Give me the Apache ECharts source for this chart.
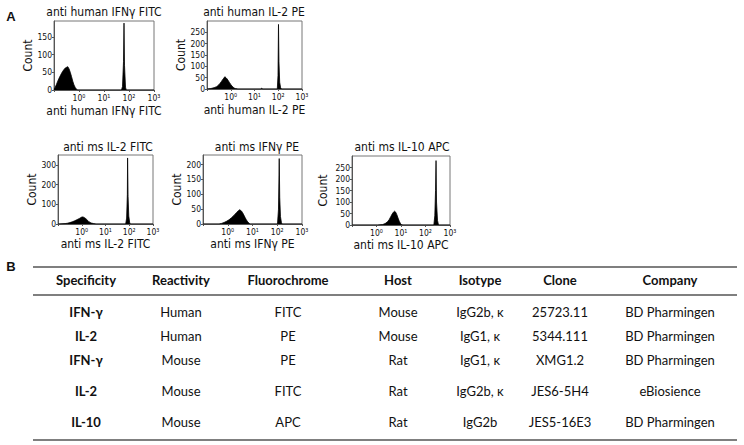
<!DOCTYPE html>
<html><head><meta charset="utf-8">
<script src="https://cdn.jsdelivr.net/npm/echarts@6/dist/echarts.min.js"></script>
<style>html,body{margin:0;padding:0;background:#fff}#c{width:744px;height:445px}</style>
</head><body><div id="c"></div>
<script>
// ---- Panel A histograms: x = log10 fluorescence, y = count ----
const h1Title = 'anti human IFNγ FITC';
const h1Log = [-1.0,-0.95,-0.9,-0.85,-0.8,-0.75,-0.7,-0.65,-0.6,-0.55,-0.5,-0.45,-0.4,-0.35,-0.3,-0.25,-0.2,-0.15,-0.1,-0.05, 1.70,1.74,1.78,1.80,1.82,1.86,1.89, 3.0];
const h1Count = [2,8,16,25,33,40,47,53,58,62,64,66,60,50,38,25,14,7,2,0, 0,10,80,189,70,8,0, 0];

const h2Title = 'anti human IL-2 PE';
const h2Log = [-1.0,-0.85,-0.8,-0.7,-0.6,-0.55,-0.5,-0.45,-0.4,-0.35,-0.3,-0.25,-0.2,-0.15,-0.1,-0.05,0,0.05,0.1,0.15,0.2,0.3, 1.25,1.3,1.35, 1.96,1.99,2.01,2.03,2.06,2.1,2.14, 3.0];
const h2Count = [0,2,3,6,10,14,19,25,32,40,47,54,50,44,36,28,20,13,8,4,2,0, 0,3,0, 0,60,285,120,30,5,0, 0];

const h3Title = 'anti ms IL-2 FITC';
const h3Log = [-1.0,-0.7,-0.6,-0.5,-0.4,-0.3,-0.2,-0.1,-0.05,0,0.05,0.1,0.15,0.2,0.25,0.3,0.35,0.4,0.5,0.6, 1.85,1.89,1.92,1.93,1.95,1.98,2.02,2.05, 3.0];
const h3Count = [0,2,4,7,11,16,22,28,32,35,36,33,29,24,18,12,8,5,2,0, 0,30,150,335,140,40,5,0, 0];

const h4Title = 'anti ms IFNγ PE';
const h4Log = [-1.0,-0.35,-0.25,-0.15,-0.05,0.05,0.15,0.25,0.35,0.42,0.48,0.55,0.6,0.65,0.7,0.75,0.8,0.85,0.9, 2.01,2.05,2.08,2.10,2.13,2.17,2.2, 3.0];
const h4Count = [0,0,2,5,9,14,21,29,38,44,48,44,38,30,22,14,8,3,0, 0,50,220,90,25,4,0, 0];

const h5Title = 'anti ms IL-10 APC';
const h5Log = [-1.0,0.05,0.25,0.35,0.45,0.52,0.58,0.64,0.7,0.74,0.78,0.83,0.88,0.93,0.98,1.03,1.08, 2.34,2.38,2.41,2.43,2.45,2.49,2.53, 3.0];
const h5Count = [0,0,2,6,14,24,36,48,57,60,56,45,30,16,6,1,0, 0,40,150,280,100,20,0, 0];

const xTickExp = [-1, 0, 1, 2, 3];
const xTickLabels = ['', '10⁰', '10¹', '10²', '10³'];
const yLabel = 'Count';

// ---- Panel B table ----
const tableHeader = ['Specificity','Reactivity','Fluorochrome','Host','Isotype','Clone','Company'];
const colSpecificity = ['IFN-γ','IL-2','IFN-γ','IL-2','IL-10'];
const colReactivity = ['Human','Human','Mouse','Mouse','Mouse'];
const colFluorochrome = ['FITC','PE','PE','FITC','APC'];
const colHost = ['Mouse','Mouse','Rat','Rat','Rat'];
const colIsotype = ['IgG2b, κ','IgG1, κ','IgG1, κ','IgG2b, κ','IgG2b'];
const colClone = ['25723.11','5344.111','XMG1.2','JES6-5H4','JES5-16E3'];
const colCompany = ['BD Pharmingen','BD Pharmingen','BD Pharmingen','eBiosience','BD Pharmingen'];

// ---- layout ----
const FONT = 'Lato, "Noto Sans", sans-serif';
const PFONT = '"Liberation Sans Narrow", "DejaVu Sans Condensed", sans-serif';
const plots = [
  {title:h1Title, log:h1Log, count:h1Count, grid:{left:54,top:21,width:100,height:69}, ymax:195, yint:50, cx:104, ty:12, ygap:17, xgap:15},
  {title:h2Title, log:h2Log, count:h2Count, grid:{left:207,top:21,width:95,height:68}, ymax:300, yint:50, cx:254, ty:12, ygap:20, xgap:15},
  {title:h3Title, log:h3Log, count:h3Count, grid:{left:58,top:155,width:95,height:69}, ymax:350, yint:100, cx:108, ty:147, ygap:20, xgap:14},
  {title:h4Title, log:h4Log, count:h4Count, grid:{left:203,top:155,width:99,height:69}, ymax:232, yint:50, cx:257, ty:147, ygap:15, xgap:14},
  {title:h5Title, log:h5Log, count:h5Count, grid:{left:352,top:156,width:98,height:69}, ymax:300, yint:50, cx:402, ty:147, ygap:23, xgap:14}
];

const grids = [], xAxes = [], yAxes = [], series = [], graphics = [];
plots.forEach((p, i) => {
  grids.push(Object.assign({show:true, borderColor:'#777', borderWidth:1, backgroundColor:'transparent'}, p.grid));
  xAxes.push({
    type:'value', gridIndex:i, min:-1, max:3, interval:1,
    name:p.title, nameLocation:'middle', nameGap:p.xgap,
    nameTextStyle:{fontFamily:PFONT, fontSize:12, color:'#111'},
    axisLine:{onZero:false, lineStyle:{color:'#555'}}, axisTick:{length:2, lineStyle:{color:'#555'}},
    axisLabel:{fontSize:8.5, fontFamily:PFONT, color:'#111', margin:3,
      formatter:v => { const k = xTickExp.indexOf(v); return k >= 0 ? xTickLabels[k] : ''; }},
    splitLine:{show:false}
  });
  yAxes.push({
    type:'value', gridIndex:i, min:0, max:p.ymax, interval:p.yint,
    name:yLabel, nameLocation:'middle', nameGap:p.ygap, nameRotate:90,
    nameTextStyle:{fontFamily:PFONT, fontSize:12, color:'#111'},
    axisLine:{show:true, onZero:false, lineStyle:{color:'#555'}}, axisTick:{show:true, length:2, lineStyle:{color:'#555'}},
    axisLabel:{fontSize:8.5, fontFamily:PFONT, color:'#111', margin:2, showMaxLabel:false},
    splitLine:{show:false}
  });
  series.push({
    type:'line', xAxisIndex:i, yAxisIndex:i, symbol:'none', smooth:false,
    lineStyle:{color:'#000', width:0.8}, areaStyle:{color:'#000', opacity:1},
    data:p.log.map((x, k) => [x, p.count[k]]), silent:true, animation:false
  });
  graphics.push({type:'text', x:p.cx, y:p.ty, style:{text:p.title, fontFamily:PFONT, fontSize:12, fill:'#111', align:'center', verticalAlign:'middle'}});
});

// panel letters
graphics.push({type:'text', x:11, y:16, style:{text:'A', fontFamily:'"Liberation Sans", Arial, sans-serif', fontWeight:'bold', fontSize:13, fill:'#111', align:'center', verticalAlign:'middle'}});
graphics.push({type:'text', x:11, y:266, style:{text:'B', fontFamily:'"Liberation Sans", Arial, sans-serif', fontWeight:'bold', fontSize:13, fill:'#111', align:'center', verticalAlign:'middle'}});

// table
const colX = [86, 181, 288, 398, 480, 560, 670];
const rowY = [312, 336, 360, 391, 422];
const headerY = 280;
const columns = [colSpecificity, colReactivity, colFluorochrome, colHost, colIsotype, colClone, colCompany];
[267, 295, 440].forEach(y => graphics.push({type:'line', shape:{x1:33, y1:y, x2:737, y2:y}, style:{stroke:'#555', lineWidth:1.5}}));
tableHeader.forEach((h, c) => graphics.push({type:'text', x:colX[c], y:headerY, style:{text:h, fontFamily:FONT, fontWeight:'bold', fontSize:13, fill:'#111', align:'center', verticalAlign:'middle'}}));
columns.forEach((col, c) => col.forEach((t, r) => graphics.push({type:'text', x:colX[c], y:rowY[r], style:{text:t, fontFamily:FONT, fontWeight:c === 0 ? 'bold' : 'normal', fontSize:13, fill:'#111', align:'center', verticalAlign:'middle'}})));

const chart = echarts.init(document.getElementById('c'), null, {renderer:'svg', width:744, height:445});
chart.setOption({
  animation:false, backgroundColor:'#fff',
  grid:grids, xAxis:xAxes, yAxis:yAxes, series:series, graphic:graphics
});
</script></body></html>
